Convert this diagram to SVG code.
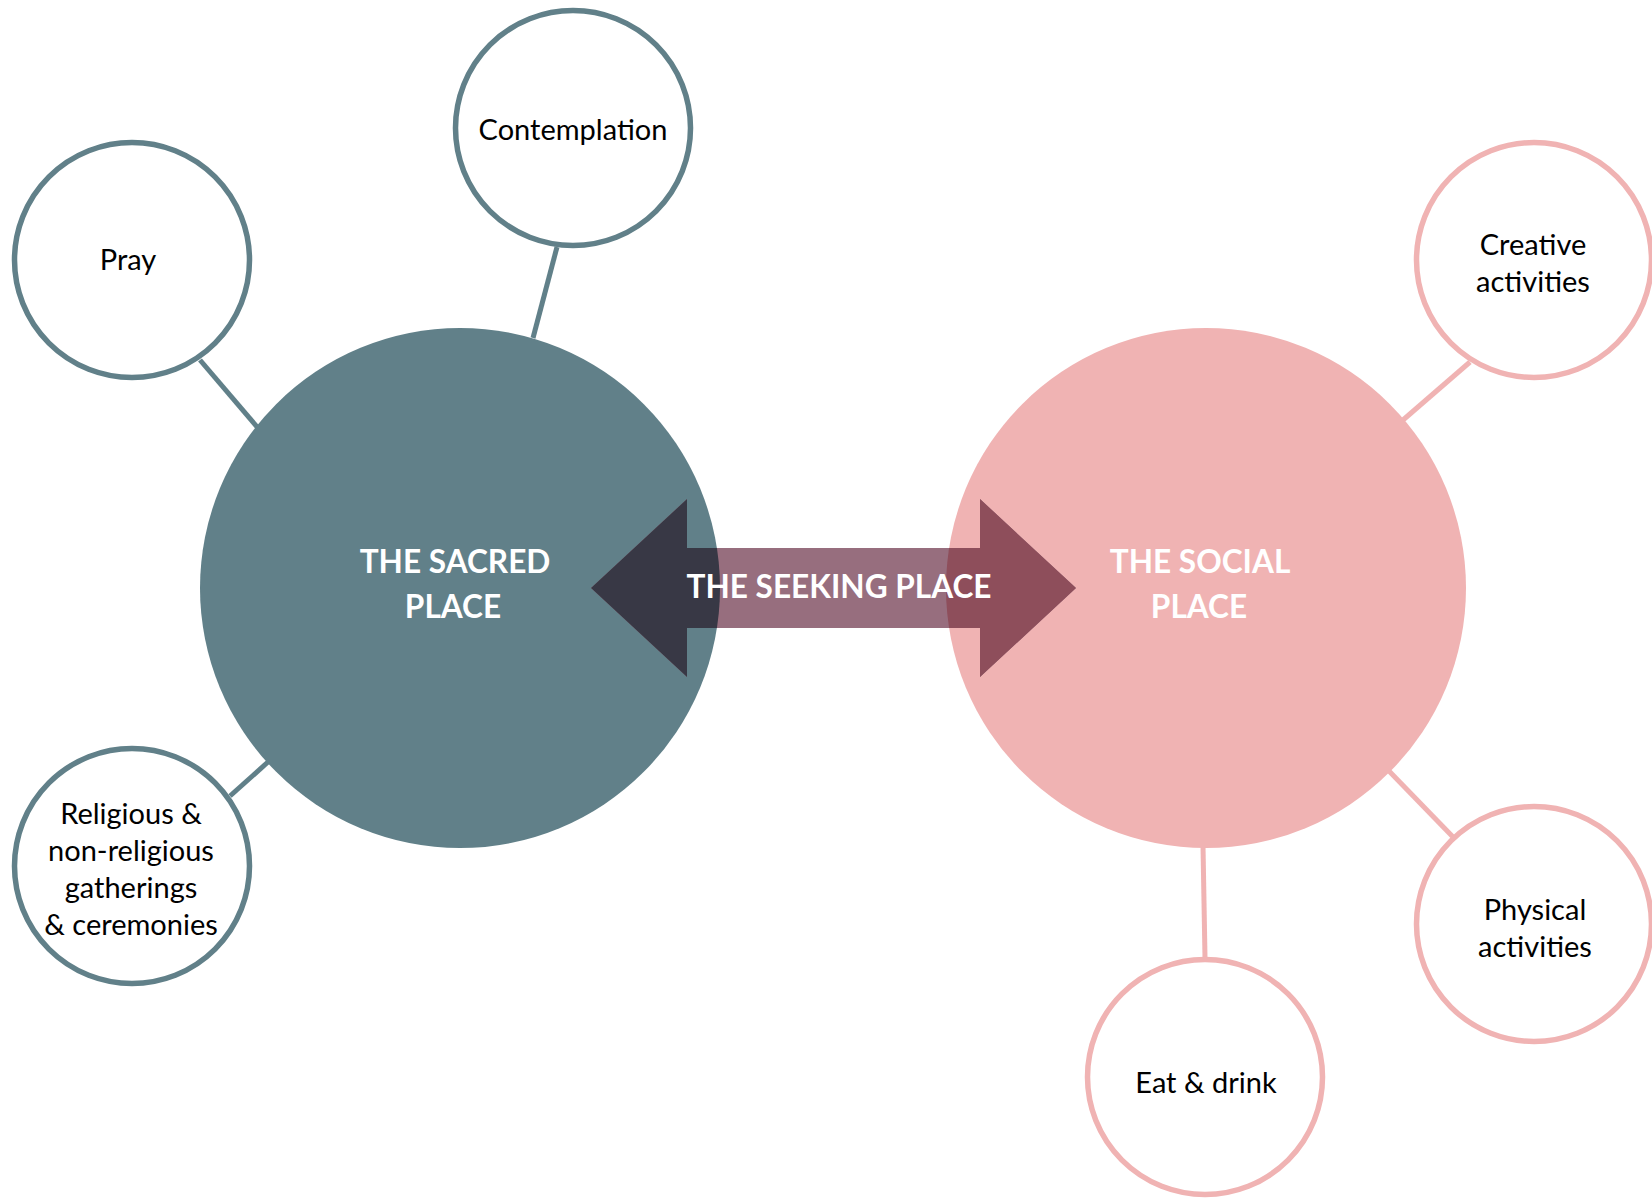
<svg xmlns="http://www.w3.org/2000/svg" width="1652" height="1198" viewBox="0 0 1652 1198">
  <style>
    .sat { fill: #ffffff; stroke-width: 5.5; }
    .sacred { stroke: #618089; }
    .social { stroke: #f0b3b3; }
    .link { stroke-width: 5; fill: none; }
    .lbl { font-family: Lato, "Open Sans", sans-serif; font-size: 29px; fill: #000000; text-anchor: middle; }
    .hub { font-family: Lato, "Open Sans", sans-serif; font-size: 31.6px; font-weight: bold; fill: #ffffff; text-anchor: middle; }
  </style>
  <defs>
    <clipPath id="clipSacred"><circle cx="460" cy="588" r="260"/></clipPath>
    <clipPath id="clipSocial"><circle cx="1206" cy="588" r="260"/></clipPath>
    <polygon id="arrowShape" points="591,588 687,499 687,548 980,548 980,499 1076,588 980,677 980,628 687,628 687,677"/>
  </defs>
  <rect width="1652" height="1198" fill="#ffffff"/>

  <!-- connectors between hubs and satellites -->
  <g id="connectors">
    <line class="link sacred" x1="557" y1="247" x2="533" y2="338"/>
    <line class="link sacred" x1="200" y1="360" x2="258" y2="428"/>
    <line class="link sacred" x1="230" y1="796" x2="268" y2="762"/>
    <line class="link social" x1="1470" y1="362" x2="1403" y2="420"/>
    <line class="link social" x1="1453" y1="837" x2="1389" y2="771"/>
    <line class="link social" x1="1205" y1="958" x2="1203" y2="846"/>
  </g>

  <!-- hubs -->
  <g id="sacred-place">
    <circle cx="460" cy="588" r="260" fill="#618089"/>
  </g>
  <g id="social-place">
    <circle cx="1206" cy="588" r="260" fill="#f0b3b3"/>
  </g>

  <!-- double arrow, darker where it crosses each hub -->
  <g id="seeking-place">
    <use href="#arrowShape" fill="#976e7e"/>
    <use href="#arrowShape" fill="#383845" clip-path="url(#clipSacred)"/>
    <use href="#arrowShape" fill="#8e4e5b" clip-path="url(#clipSocial)"/>
    <text class="hub" x="839" y="598">THE SEEKING PLACE</text>
  </g>

  <g id="sacred-label">
    <text class="hub" x="455" y="573">THE SACRED</text>
    <text class="hub" x="453" y="618">PLACE</text>
  </g>
  <g id="social-label">
    <text class="hub" x="1200" y="573">THE SOCIAL</text>
    <text class="hub" x="1199" y="618">PLACE</text>
  </g>

  <!-- satellites -->
  <g id="contemplation">
    <circle class="sat sacred" cx="573" cy="128" r="117.5"/>
    <text class="lbl" x="573" y="140">Contemplation</text>
  </g>
  <g id="pray">
    <circle class="sat sacred" cx="132" cy="260" r="117.5"/>
    <text class="lbl" x="128" y="270">Pray</text>
  </g>
  <g id="gatherings">
    <circle class="sat sacred" cx="132" cy="866" r="117.5"/>
    <text class="lbl" x="131" y="824">Religious &amp;</text>
    <text class="lbl" x="131" y="861">non-religious</text>
    <text class="lbl" x="131" y="898">gatherings</text>
    <text class="lbl" x="131" y="935">&amp; ceremonies</text>
  </g>
  <g id="creative">
    <circle class="sat social" cx="1534" cy="260" r="117.5"/>
    <text class="lbl" x="1533" y="255">Creative</text>
    <text class="lbl" x="1533" y="292">activities</text>
  </g>
  <g id="physical">
    <circle class="sat social" cx="1534" cy="924" r="117.5"/>
    <text class="lbl" x="1535" y="920">Physical</text>
    <text class="lbl" x="1535" y="957">activities</text>
  </g>
  <g id="eat-drink">
    <circle class="sat social" cx="1205" cy="1077" r="117.5"/>
    <text class="lbl" x="1206" y="1093">Eat &amp; drink</text>
  </g>
</svg>
